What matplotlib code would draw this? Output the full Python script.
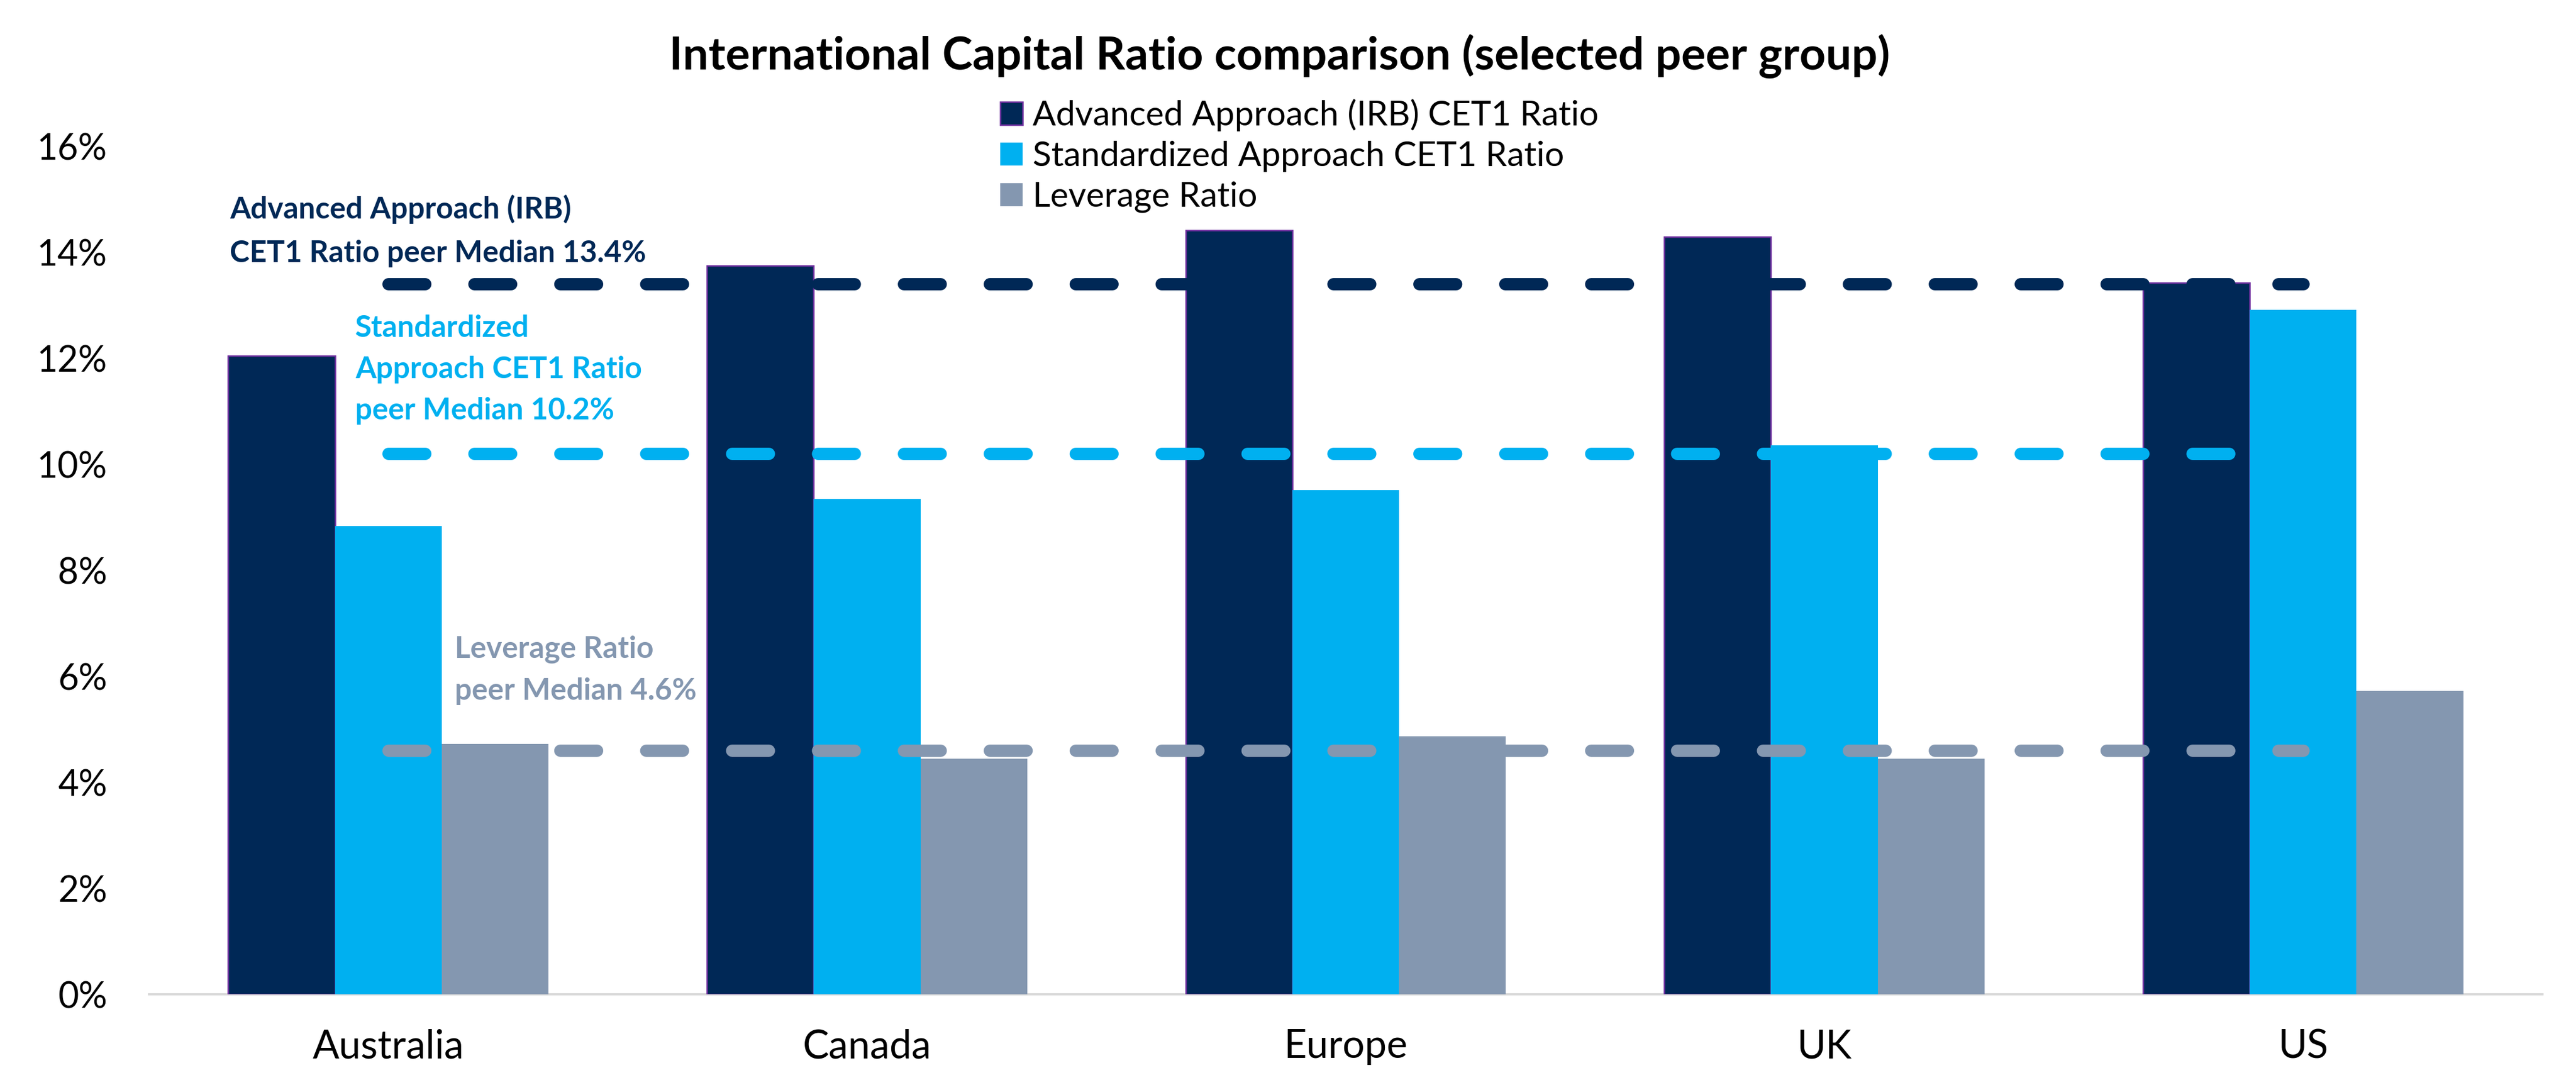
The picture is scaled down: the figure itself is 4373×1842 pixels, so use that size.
import numpy as np
import matplotlib
matplotlib.use("Agg")
import matplotlib.pyplot as plt
from matplotlib.ticker import PercentFormatter

plt.rcParams['font.family'] = ['Lato', 'DejaVu Sans']

# data (in %)
categories = ["Australia", "Canada", "Europe", "UK", "US"]
advanced_cet1 = [12.04, 13.74, 14.41, 14.29, 13.42]
standardized_cet1 = [8.83, 9.34, 9.51, 10.36, 12.91]
leverage = [4.72, 4.45, 4.87, 4.45, 5.72]
median_advanced = 13.4
median_standardized = 10.2
median_leverage = 4.6
yticks = [0, 2, 4, 6, 8, 10, 12, 14, 16]

series_names = ["Advanced Approach (IRB) CET1 Ratio",
                "Standardized Approach CET1 Ratio",
                "Leverage Ratio"]

NAVY = "#002856"
BLUE = "#00B0F0"
GREY = "#8497B0"
PURPLE = "#7030A0"

W, H, DPI = 4373, 1842, 300
fig = plt.figure(figsize=(W / DPI, H / DPI), dpi=DPI)
ax = fig.add_axes([253 / W, 1 - 1688 / H, (4316 - 253) / W, (1688 - 248) / H])

x = np.arange(len(categories))
bw = 0.223
b1 = ax.bar(x - bw, advanced_cet1, bw, color=NAVY, edgecolor=PURPLE, linewidth=0.6, zorder=2)
b2 = ax.bar(x, standardized_cet1, bw, color=BLUE, linewidth=0, zorder=2)
b3 = ax.bar(x + bw, leverage, bw, color=GREY, linewidth=0, zorder=2)

# peer median dashed lines
for med, col in [(median_advanced, NAVY), (median_standardized, BLUE), (median_leverage, GREY)]:
    ax.plot(x, np.full(len(categories), med), color=col, lw=5.0,
            linestyle=(0, (3.0, 4.0)), dash_capstyle='round', zorder=3)

ax.set_xlim(-0.5, len(categories) - 0.5)
ax.set_ylim(0, 16)
ax.set_yticks(yticks)
ax.yaxis.set_major_formatter(PercentFormatter(decimals=0))
ax.set_xticks(x)
ax.set_xticklabels(categories)
ax.tick_params(axis='y', length=0, pad=17, labelsize=14.6)
ax.tick_params(axis='x', length=0, pad=14, labelsize=16)
for s in ["top", "right", "left"]:
    ax.spines[s].set_visible(False)
ax.spines["bottom"].set_color("#D9D9D9")
ax.spines["bottom"].set_linewidth(0.9)
ax.spines["bottom"].set_zorder(1)

fig.text(2172 / W, 1 - 95 / H, "International Capital Ratio comparison (selected peer group)",
         ha='center', va='center', fontsize=18.6, fontweight='bold')

fig.legend([b1, b2, b3], series_names, loc='upper left',
           bbox_to_anchor=(1698 / W, 1 - 168 / H), frameon=False, fontsize=14,
           handlelength=0.65, handleheight=0.65, handletextpad=0.3,
           labelspacing=0.27, borderpad=0, borderaxespad=0)

# va='baseline' on multi-line text lines up the last line
fig.text(390 / W, 1 - 445 / H, "Advanced Approach (IRB)\nCET1 Ratio peer Median 13.4%",
         color=NAVY, fontsize=12.2, fontweight='bold', va='baseline', linespacing=1.7)
fig.text(603 / W, 1 - 712 / H, "Standardized\nApproach CET1 Ratio\npeer Median 10.2%",
         color=BLUE, fontsize=12.2, fontweight='bold', va='baseline', linespacing=1.6)
fig.text(772 / W, 1 - 1188 / H, "Leverage Ratio\npeer Median 4.6%",
         color=GREY, fontsize=12.2, fontweight='bold', va='baseline', linespacing=1.62)

fig.savefig("out.png", dpi=DPI)
